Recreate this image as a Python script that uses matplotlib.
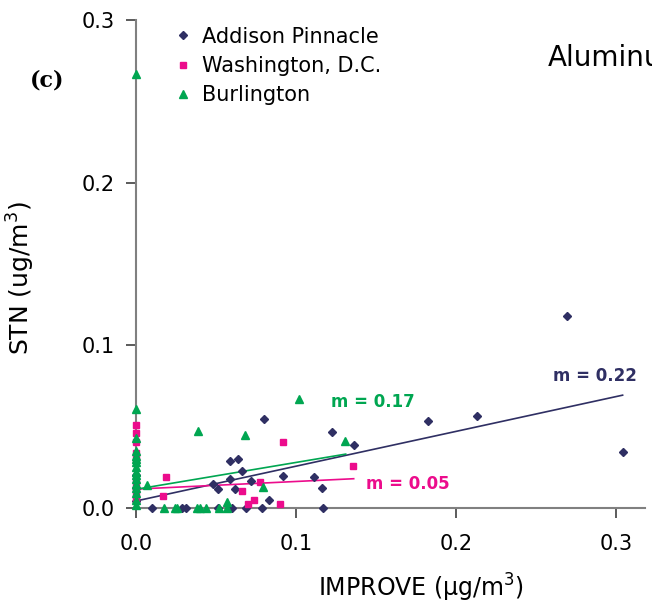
import matplotlib.pyplot as plt

# Addison Pinnacle (IMPROVE vs STN)
addison_x = [0.0, 0.0, 0.0, 0.010, 0.029, 0.031, 0.051, 0.060, 0.069, 0.079, 0.117,
             0.048, 0.051, 0.059, 0.062, 0.059, 0.064, 0.066, 0.072, 0.083, 0.080,
             0.092, 0.111, 0.116, 0.1225, 0.136, 0.1825, 0.213, 0.269, 0.304]
addison_y = [0.004, 0.012, 0.020, 0.0, 0.0, 0.0, 0.0, 0.0, 0.0, 0.0, 0.0,
             0.0147, 0.0116, 0.0178, 0.0116, 0.0288, 0.030, 0.0227, 0.0165, 0.0049, 0.0545,
             0.0196, 0.019, 0.0122, 0.0465, 0.0386, 0.0533, 0.0563, 0.118, 0.0343]

# Washington, D.C.
wash_x = [0.0, 0.0, 0.0, 0.0, 0.0, 0.0, 0.0, 0.0, 0.0,
          0.019, 0.017, 0.092, 0.0775, 0.066, 0.074, 0.070, 0.090, 0.1356]
wash_y = [0.0508, 0.046, 0.0404, 0.034, 0.030, 0.016, 0.012, 0.008, 0.005,
          0.019, 0.0074, 0.0404, 0.0162, 0.0104, 0.0052, 0.0024, 0.0024, 0.0257]

# Burlington
burl_x = [0.0, 0.0, 0.0, 0.0, 0.0, 0.0, 0.0, 0.0, 0.0, 0.0, 0.0, 0.0, 0.0, 0.0, 0.0, 0.0,
          0.0066, 0.039, 0.068, 0.102, 0.0796, 0.1306, 0.0567,
          0.0177, 0.0244, 0.0256, 0.038, 0.040, 0.0436, 0.052, 0.057]
burl_y = [0.267, 0.0606, 0.043, 0.035, 0.032, 0.030, 0.028, 0.025, 0.022, 0.020, 0.018,
          0.015, 0.012, 0.009, 0.005, 0.002,
          0.0141, 0.0475, 0.0447, 0.0667, 0.0129, 0.041, 0.0039,
          0.0, 0.0, 0.0, 0.0, 0.0, 0.0, 0.0, 0.0]

# regression lines: (x start, x end, intercept, slope)
addison_fit = [0.0, 0.304, 0.0043, 0.214]
wash_fit = [0.0, 0.136, 0.0116, 0.047]
burl_fit = [0.0, 0.131, 0.0115, 0.165]

navy = '#2f2f63'
pink = '#ec0c8c'
green = '#00a651'

plt.rcParams['font.family'] = ['DejaVu Sans']

fig = plt.figure(figsize=(6.52, 6.11), dpi=100)
ax = fig.add_axes([0.2086, 0.1686, 0.7807, 0.7987])

ax.plot(addison_x, addison_y, 'D', color=navy, ms=4.5, ls='none',
        label='Addison Pinnacle', clip_on=False, zorder=3)
ax.plot(wash_x, wash_y, 's', color=pink, ms=5, ls='none',
        label='Washington, D.C.', clip_on=False, zorder=3)
ax.plot(burl_x, burl_y, '^', color=green, ms=6, ls='none',
        label='Burlington', clip_on=False, zorder=4)

for fit, c in [(addison_fit, navy), (wash_fit, pink), (burl_fit, green)]:
    x0, x1, b, m = fit
    ax.plot([x0, x1], [b + m * x0, b + m * x1], color=c, lw=1.2, zorder=2)

ax.text(0.287, 0.081, 'm = 0.22', color=navy, fontsize=12, fontweight='bold',
        ha='center', va='center')
ax.text(0.148, 0.065, 'm = 0.17', color=green, fontsize=12, fontweight='bold',
        ha='center', va='center')
ax.text(0.170, 0.0147, 'm = 0.05', color=pink, fontsize=12, fontweight='bold',
        ha='center', va='center')

ax.set_xlim(0, 0.318)
ax.set_ylim(0, 0.3)
ax.set_xticks([0.0, 0.1, 0.2, 0.3])
ax.set_yticks([0.0, 0.1, 0.2, 0.3])
ax.set_xticklabels(['0.0', '0.1', '0.2', '0.3'])
ax.set_yticklabels(['0.0', '0.1', '0.2', '0.3'])
ax.tick_params(labelsize=15, length=7, width=1.2, color='#404040')
ax.tick_params(axis='x', pad=12)
ax.tick_params(axis='y', pad=8)

for s in ['top', 'right']:
    ax.spines[s].set_visible(False)
for s in ['left', 'bottom']:
    ax.spines[s].set_color('#808080')
    ax.spines[s].set_linewidth(1.5)

ax.set_xlabel('IMPROVE (\u00b5g/m$^3$)', fontsize=17)
ax.xaxis.set_label_coords(0.56, -0.13)
ax.set_ylabel('STN (ug/m$^3$)', fontsize=18)
ax.yaxis.set_label_coords(-0.195, 0.47)

ax.legend(loc='upper left', bbox_to_anchor=(0.04, 1.025), frameon=False,
          fontsize=15, handlelength=0.8, handletextpad=0.5, labelspacing=0.45,
          markerscale=0.9)

fig.text(47 / 652, 1 - 80 / 611, '(c)', fontsize=16, fontweight='bold',
         family='DejaVu Serif', ha='center', va='center')
fig.text(548 / 652, 1 - 58 / 611, 'Aluminum', fontsize=20, ha='left', va='center')

plt.savefig('out.png', dpi=100)
